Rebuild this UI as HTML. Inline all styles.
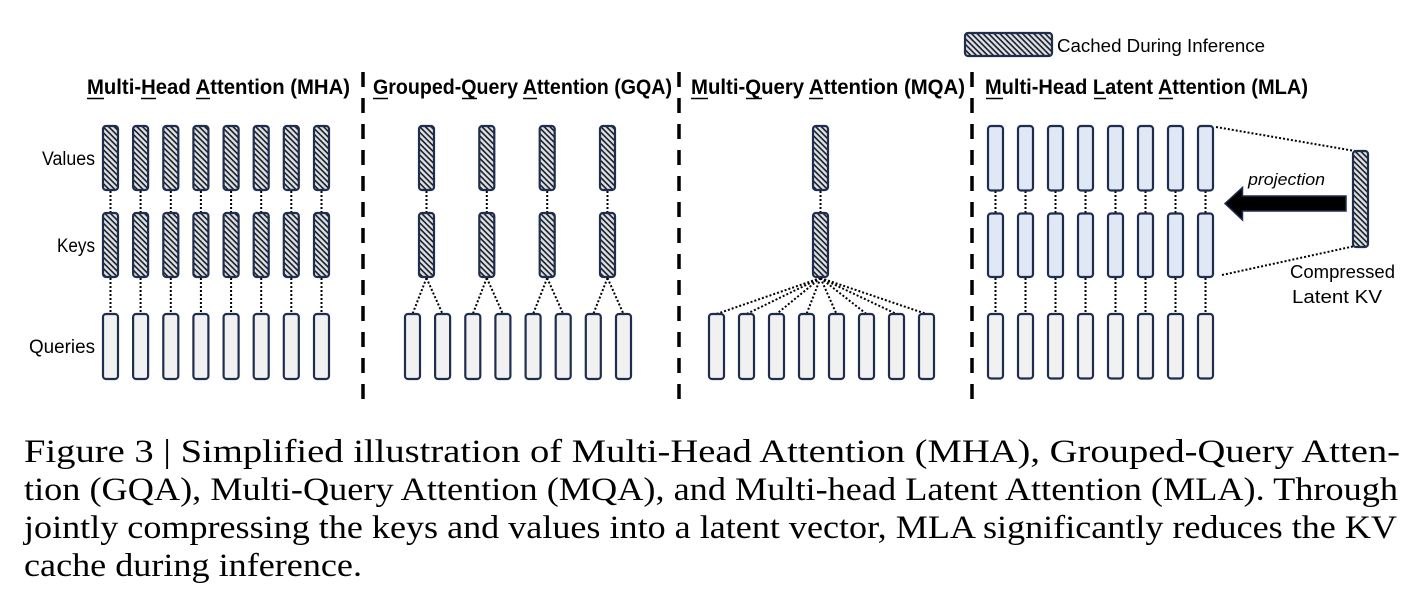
<!DOCTYPE html>
<html>
<head>
<meta charset="utf-8">
<style>
html,body{margin:0;padding:0;background:#fff;}
body{width:1426px;height:602px;overflow:hidden;}
svg{display:block;}
.t{font-family:"Liberation Sans",Arial,sans-serif;fill:#000;}
.b{font-weight:bold;}
.cap{font-family:"Liberation Serif","Times New Roman",serif;font-size:33px;fill:#000;}
.v{fill:url(#h);stroke:#1f2e4e;stroke-width:2.2;}
.q{fill:#f1f1f1;stroke:#1f2e4e;stroke-width:2.2;}
.m{fill:#dfe8f4;stroke:#1f2e4e;stroke-width:2.2;}
.d{stroke:#000;stroke-width:2;stroke-dasharray:2 2;fill:none;}
.sep{stroke:#000;stroke-width:3.5;stroke-dasharray:15 11;}
.u{stroke:#000;stroke-width:1.5;}
</style>
</head>
<body>
<svg width="1426" height="602" viewBox="0 0 1426 602" xmlns="http://www.w3.org/2000/svg">
<defs>
<pattern id="h" width="4" height="4" patternUnits="userSpaceOnUse" patternTransform="rotate(45)">
<rect width="4" height="4" fill="#dae1eb"/>
<rect width="4" height="1.6" fill="#1c1c1c"/>
</pattern>
</defs>

<!-- Legend -->
<rect x="965" y="33" width="87" height="23" rx="3" class="v"/>
<text x="1057" y="52" class="t" font-size="18" textLength="208" lengthAdjust="spacingAndGlyphs">Cached During Inference</text>

<!-- Titles -->
<text x="87" y="94" class="t b" font-size="21" textLength="263" lengthAdjust="spacingAndGlyphs">Multi-Head Attention (MHA)</text>
<line x1="87" y1="98.5" x2="104" y2="98.5" class="u"/>
<line x1="141" y1="98.5" x2="156" y2="98.5" class="u"/>
<line x1="196" y1="98.5" x2="210" y2="98.5" class="u"/>

<text x="373" y="94" class="t b" font-size="21" textLength="299" lengthAdjust="spacingAndGlyphs">Grouped-Query Attention (GQA)</text>
<line x1="373" y1="98.5" x2="388" y2="98.5" class="u"/>
<line x1="462" y1="98.5" x2="477" y2="98.5" class="u"/>
<line x1="523" y1="98.5" x2="537" y2="98.5" class="u"/>

<text x="691" y="94" class="t b" font-size="21" textLength="274" lengthAdjust="spacingAndGlyphs">Multi-Query Attention (MQA)</text>
<line x1="691" y1="98.5" x2="708" y2="98.5" class="u"/>
<line x1="746" y1="98.5" x2="762" y2="98.5" class="u"/>
<line x1="809" y1="98.5" x2="823" y2="98.5" class="u"/>

<text x="985" y="94" class="t b" font-size="21" textLength="323" lengthAdjust="spacingAndGlyphs">Multi-Head Latent Attention (MLA)</text>
<line x1="986" y1="98.5" x2="1003" y2="98.5" class="u"/>
<line x1="1094" y1="98.5" x2="1106" y2="98.5" class="u"/>
<line x1="1159" y1="98.5" x2="1173" y2="98.5" class="u"/>

<!-- Separators -->
<line x1="363" y1="72" x2="363" y2="401" class="sep"/>
<line x1="679" y1="72" x2="679" y2="401" class="sep"/>
<line x1="972" y1="72" x2="972" y2="401" class="sep"/>

<!-- Row labels -->
<text x="42" y="165" class="t" font-size="19" textLength="53" lengthAdjust="spacingAndGlyphs">Values</text>
<text x="57" y="252" class="t" font-size="19" textLength="38" lengthAdjust="spacingAndGlyphs">Keys</text>
<text x="29" y="353" class="t" font-size="19" textLength="66" lengthAdjust="spacingAndGlyphs">Queries</text>

<!-- MHA -->
<g>
<line x1="110.5" y1="191" x2="110.5" y2="213" class="d"/><line x1="110.5" y1="278" x2="110.5" y2="314" class="d"/>
<line x1="140.6" y1="191" x2="140.6" y2="213" class="d"/><line x1="140.6" y1="278" x2="140.6" y2="314" class="d"/>
<line x1="170.8" y1="191" x2="170.8" y2="213" class="d"/><line x1="170.8" y1="278" x2="170.8" y2="314" class="d"/>
<line x1="200.9" y1="191" x2="200.9" y2="213" class="d"/><line x1="200.9" y1="278" x2="200.9" y2="314" class="d"/>
<line x1="231.1" y1="191" x2="231.1" y2="213" class="d"/><line x1="231.1" y1="278" x2="231.1" y2="314" class="d"/>
<line x1="261.2" y1="191" x2="261.2" y2="213" class="d"/><line x1="261.2" y1="278" x2="261.2" y2="314" class="d"/>
<line x1="291.3" y1="191" x2="291.3" y2="213" class="d"/><line x1="291.3" y1="278" x2="291.3" y2="314" class="d"/>
<line x1="321.5" y1="191" x2="321.5" y2="213" class="d"/><line x1="321.5" y1="278" x2="321.5" y2="314" class="d"/>

<rect x="103" y="126" width="15" height="64" rx="3" class="v"/>
<rect x="133.1" y="126" width="15" height="64" rx="3" class="v"/>
<rect x="163.3" y="126" width="15" height="64" rx="3" class="v"/>
<rect x="193.4" y="126" width="15" height="64" rx="3" class="v"/>
<rect x="223.6" y="126" width="15" height="64" rx="3" class="v"/>
<rect x="253.7" y="126" width="15" height="64" rx="3" class="v"/>
<rect x="283.8" y="126" width="15" height="64" rx="3" class="v"/>
<rect x="314" y="126" width="15" height="64" rx="3" class="v"/>

<rect x="103" y="213" width="15" height="64" rx="3" class="v"/>
<rect x="133.1" y="213" width="15" height="64" rx="3" class="v"/>
<rect x="163.3" y="213" width="15" height="64" rx="3" class="v"/>
<rect x="193.4" y="213" width="15" height="64" rx="3" class="v"/>
<rect x="223.6" y="213" width="15" height="64" rx="3" class="v"/>
<rect x="253.7" y="213" width="15" height="64" rx="3" class="v"/>
<rect x="283.8" y="213" width="15" height="64" rx="3" class="v"/>
<rect x="314" y="213" width="15" height="64" rx="3" class="v"/>

<rect x="103" y="314" width="15" height="65" rx="3" class="q"/>
<rect x="133.1" y="314" width="15" height="65" rx="3" class="q"/>
<rect x="163.3" y="314" width="15" height="65" rx="3" class="q"/>
<rect x="193.4" y="314" width="15" height="65" rx="3" class="q"/>
<rect x="223.6" y="314" width="15" height="65" rx="3" class="q"/>
<rect x="253.7" y="314" width="15" height="65" rx="3" class="q"/>
<rect x="283.8" y="314" width="15" height="65" rx="3" class="q"/>
<rect x="314" y="314" width="15" height="65" rx="3" class="q"/>
</g>

<!-- GQA -->
<g>
<line x1="426.5" y1="191" x2="426.5" y2="213" class="d"/>
<line x1="486.8" y1="191" x2="486.8" y2="213" class="d"/>
<line x1="547.2" y1="191" x2="547.2" y2="213" class="d"/>
<line x1="607.5" y1="191" x2="607.5" y2="213" class="d"/>

<line x1="426.5" y1="278" x2="412.5" y2="314" class="d"/>
<line x1="426.5" y1="278" x2="442.6" y2="314" class="d"/>
<line x1="486.8" y1="278" x2="472.8" y2="314" class="d"/>
<line x1="486.8" y1="278" x2="502.9" y2="314" class="d"/>
<line x1="547.2" y1="278" x2="533.1" y2="314" class="d"/>
<line x1="547.2" y1="278" x2="563.2" y2="314" class="d"/>
<line x1="607.5" y1="278" x2="593.3" y2="314" class="d"/>
<line x1="607.5" y1="278" x2="623.5" y2="314" class="d"/>

<rect x="419" y="126" width="15" height="64" rx="3" class="v"/>
<rect x="479.3" y="126" width="15" height="64" rx="3" class="v"/>
<rect x="539.7" y="126" width="15" height="64" rx="3" class="v"/>
<rect x="600" y="126" width="15" height="64" rx="3" class="v"/>

<rect x="419" y="213" width="15" height="64" rx="3" class="v"/>
<rect x="479.3" y="213" width="15" height="64" rx="3" class="v"/>
<rect x="539.7" y="213" width="15" height="64" rx="3" class="v"/>
<rect x="600" y="213" width="15" height="64" rx="3" class="v"/>

<rect x="405" y="314" width="15" height="65" rx="3" class="q"/>
<rect x="435.1" y="314" width="15" height="65" rx="3" class="q"/>
<rect x="465.3" y="314" width="15" height="65" rx="3" class="q"/>
<rect x="495.4" y="314" width="15" height="65" rx="3" class="q"/>
<rect x="525.6" y="314" width="15" height="65" rx="3" class="q"/>
<rect x="555.7" y="314" width="15" height="65" rx="3" class="q"/>
<rect x="585.8" y="314" width="15" height="65" rx="3" class="q"/>
<rect x="616" y="314" width="15" height="65" rx="3" class="q"/>
</g>

<!-- MQA -->
<g>
<line x1="820.5" y1="191" x2="820.5" y2="213" class="d"/>
<line x1="820.5" y1="278" x2="716.5" y2="314" class="d"/>
<line x1="820.5" y1="278" x2="746.5" y2="314" class="d"/>
<line x1="820.5" y1="278" x2="776.5" y2="314" class="d"/>
<line x1="820.5" y1="278" x2="806.5" y2="314" class="d"/>
<line x1="820.5" y1="278" x2="836.5" y2="314" class="d"/>
<line x1="820.5" y1="278" x2="866.5" y2="314" class="d"/>
<line x1="820.5" y1="278" x2="896.5" y2="314" class="d"/>
<line x1="820.5" y1="278" x2="926.5" y2="314" class="d"/>

<rect x="813" y="126" width="15" height="64" rx="3" class="v"/>
<rect x="813" y="213" width="15" height="64" rx="3" class="v"/>

<rect x="709" y="314" width="15" height="65" rx="3" class="q"/>
<rect x="739" y="314" width="15" height="65" rx="3" class="q"/>
<rect x="769" y="314" width="15" height="65" rx="3" class="q"/>
<rect x="799" y="314" width="15" height="65" rx="3" class="q"/>
<rect x="829" y="314" width="15" height="65" rx="3" class="q"/>
<rect x="859" y="314" width="15" height="65" rx="3" class="q"/>
<rect x="889" y="314" width="15" height="65" rx="3" class="q"/>
<rect x="919" y="314" width="15" height="65" rx="3" class="q"/>
</g>

<!-- MLA -->
<g>
<line x1="995.5" y1="191" x2="995.5" y2="213" class="d"/><line x1="995.5" y1="278" x2="995.5" y2="314" class="d"/>
<line x1="1025.5" y1="191" x2="1025.5" y2="213" class="d"/><line x1="1025.5" y1="278" x2="1025.5" y2="314" class="d"/>
<line x1="1055.5" y1="191" x2="1055.5" y2="213" class="d"/><line x1="1055.5" y1="278" x2="1055.5" y2="314" class="d"/>
<line x1="1085.5" y1="191" x2="1085.5" y2="213" class="d"/><line x1="1085.5" y1="278" x2="1085.5" y2="314" class="d"/>
<line x1="1115.5" y1="191" x2="1115.5" y2="213" class="d"/><line x1="1115.5" y1="278" x2="1115.5" y2="314" class="d"/>
<line x1="1145.5" y1="191" x2="1145.5" y2="213" class="d"/><line x1="1145.5" y1="278" x2="1145.5" y2="314" class="d"/>
<line x1="1175.5" y1="191" x2="1175.5" y2="213" class="d"/><line x1="1175.5" y1="278" x2="1175.5" y2="314" class="d"/>
<line x1="1205.5" y1="191" x2="1205.5" y2="213" class="d"/><line x1="1205.5" y1="278" x2="1205.5" y2="314" class="d"/>

<rect x="988" y="126" width="15" height="64.5" rx="3" class="m"/>
<rect x="1018" y="126" width="15" height="64.5" rx="3" class="m"/>
<rect x="1048" y="126" width="15" height="64.5" rx="3" class="m"/>
<rect x="1078" y="126" width="15" height="64.5" rx="3" class="m"/>
<rect x="1108" y="126" width="15" height="64.5" rx="3" class="m"/>
<rect x="1138" y="126" width="15" height="64.5" rx="3" class="m"/>
<rect x="1168" y="126" width="15" height="64.5" rx="3" class="m"/>
<rect x="1198" y="126" width="15" height="64.5" rx="3" class="m"/>

<rect x="988" y="213.5" width="15" height="63.5" rx="3" class="m"/>
<rect x="1018" y="213.5" width="15" height="63.5" rx="3" class="m"/>
<rect x="1048" y="213.5" width="15" height="63.5" rx="3" class="m"/>
<rect x="1078" y="213.5" width="15" height="63.5" rx="3" class="m"/>
<rect x="1108" y="213.5" width="15" height="63.5" rx="3" class="m"/>
<rect x="1138" y="213.5" width="15" height="63.5" rx="3" class="m"/>
<rect x="1168" y="213.5" width="15" height="63.5" rx="3" class="m"/>
<rect x="1198" y="213.5" width="15" height="63.5" rx="3" class="m"/>

<rect x="988" y="314" width="15" height="64.5" rx="3" class="q"/>
<rect x="1018" y="314" width="15" height="64.5" rx="3" class="q"/>
<rect x="1048" y="314" width="15" height="64.5" rx="3" class="q"/>
<rect x="1078" y="314" width="15" height="64.5" rx="3" class="q"/>
<rect x="1108" y="314" width="15" height="64.5" rx="3" class="q"/>
<rect x="1138" y="314" width="15" height="64.5" rx="3" class="q"/>
<rect x="1168" y="314" width="15" height="64.5" rx="3" class="q"/>
<rect x="1198" y="314" width="15" height="64.5" rx="3" class="q"/>

<!-- latent projection -->
<line x1="1216" y1="127" x2="1355" y2="151" class="d"/>
<line x1="1222" y1="275" x2="1355" y2="246" class="d"/>
<rect x="1353" y="151" width="15" height="96" rx="3" class="v"/>
<polygon points="1225,203.5 1242.5,187.5 1242.5,196 1346,196 1346,211 1242.5,211 1242.5,220" fill="#000" stroke="#1f2e4e" stroke-width="1.5" stroke-linejoin="miter"/>
<text x="1248" y="185" class="t" font-size="17" font-style="italic" textLength="77" lengthAdjust="spacingAndGlyphs">projection</text>
<text x="1290" y="278" class="t" font-size="18" textLength="105" lengthAdjust="spacingAndGlyphs">Compressed</text>
<text x="1292" y="303" class="t" font-size="18" textLength="90" lengthAdjust="spacingAndGlyphs">Latent KV</text>
</g>

<!-- Caption -->
<text x="24" y="462" class="cap" textLength="1376" lengthAdjust="spacingAndGlyphs">Figure 3 | Simplified illustration of Multi-Head Attention (MHA), Grouped-Query Atten-</text>
<text x="24" y="500" class="cap" textLength="1374" lengthAdjust="spacingAndGlyphs">tion (GQA), Multi-Query Attention (MQA), and Multi-head Latent Attention (MLA). Through</text>
<text x="24" y="538" class="cap" textLength="1373" lengthAdjust="spacingAndGlyphs">jointly compressing the keys and values into a latent vector, MLA significantly reduces the KV</text>
<text x="24" y="576" class="cap" textLength="338" lengthAdjust="spacingAndGlyphs">cache during inference.</text>
</svg>
</body>
</html>
